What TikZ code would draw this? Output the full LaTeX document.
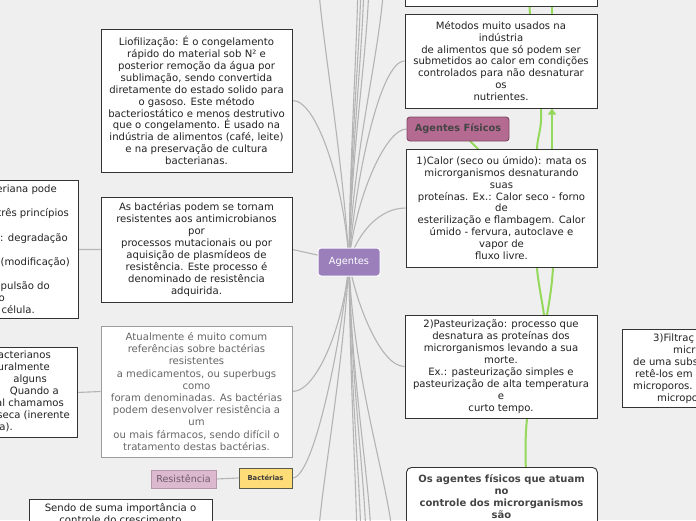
\documentclass[tikz,border=0pt]{standalone}
\usepackage{fontspec}
\setmainfont{DejaVu Sans}
\usetikzlibrary{arrows.meta,calc}
\pgfdeclarelayer{back}
\pgfdeclarelayer{links}
\pgfsetlayers{back,links,main}
\definecolor{bgc}{HTML}{EFEFEF}
\definecolor{boxc}{HTML}{333333}
\definecolor{txtc}{HTML}{222222}
\definecolor{graybox}{HTML}{9C9C9C}
\definecolor{graytxt}{HTML}{666666}
\definecolor{lnkc}{HTML}{B4B4B4}
\definecolor{grnc}{HTML}{94D85C}
\definecolor{agfill}{HTML}{9A7FBB}
\definecolor{fisfill}{HTML}{B56A92}
\definecolor{fisdraw}{HTML}{7E4A66}
\definecolor{fistxt}{HTML}{444444}
\definecolor{resfill}{HTML}{DCB9CF}
\definecolor{resdraw}{HTML}{B497AA}
\definecolor{restxt}{HTML}{6E5B69}
\definecolor{bacfill}{HTML}{FEDC78}
\definecolor{bacdraw}{HTML}{5A5A4A}
\definecolor{bactxt}{HTML}{3C3C3C}
\definecolor{bottxt}{HTML}{444444}
\tikzset{
  bx/.style={draw=boxc, fill=white, line width=0.9pt, align=center, inner sep=2pt,
    text=txtc, font=\fontsize{10.1}{11.9}\selectfont},
  frag/.style={inner sep=0pt, text=txtc, font=\fontsize{10.1}{11.9}\selectfont},
  lnk/.style={draw=lnkc, line width=1.1pt},
  grn/.style={draw=grnc, line width=2pt},
}
\begin{document}
\begin{tikzpicture}[x=1pt,y=-1pt]
\useasboundingbox (0,0) rectangle (696,520);
\begin{pgfonlayer}{back}
\fill[bgc] (0,0) rectangle (696,520);
\end{pgfonlayer}

\begin{scope}
\clip (0,0) rectangle (696,520);
% centre
\node[draw=white, line width=1pt, fill=agfill, rounded corners=3pt, text=white,
  font=\fontsize{9.8}{11}\selectfont, minimum width=62, minimum height=28, inner sep=0pt] (ag) at (349,262) {Agentes};

% left column
\node[bx, minimum width=191, minimum height=143] (lio) at (196.5,100.5)
 {Liofilização: É o congelamento\\rápido do material sob N² e\\posterior remoção da água por\\sublimação, sendo convertida\\diretamente do estado solido para\\o gasoso. Este método\\bacteriostático e menos destrutivo\\que o congelamento. É usado na\\indústria de alimentos (café, leite)\\e na preservação de cultura\\bacterianas.};
\node[bx, minimum width=191, minimum height=105] (acq) at (196.5,249.5)
 {As bactérias podem se tornam\\resistentes aos antimicrobianos\\por\\processos mutacionais ou por\\aquisição de plasmídeos de\\resistência. Este processo é\\denominado de resistência\\adquirida.};
\node[bx, draw=graybox, text=graytxt, font=\fontsize{10.1}{12.2}\selectfont, minimum width=191, minimum height=131] (atu) at (196.5,391.5)
 {Atualmente é muito comum\\referências sobre bactérias\\resistentes\\a medicamentos, ou superbugs\\como\\foram denominadas. As bactérias\\podem desenvolver resistência a\\um\\ou mais fármacos, sendo difícil o\\tratamento destas bactérias.};

% far-left boxes (cut by the edge)
\node[bx, minimum width=200, minimum height=138, anchor=north east] (lb1) at (79,180) {};
\node[frag, anchor=base east] (lb1a) at (57,192.6) {eriana pode};
\node[frag, anchor=base east] (lb1b) at (69,216.6) {três princípios};
\node[frag, anchor=base east] (lb1c) at (68,241.6) {): degradação};
\node[frag, anchor=base east] (lb1d) at (70,265.6) {(modificação)};
\node[frag, anchor=base east] (lb1e) at (50,289.6) {pulsão do};
\node[frag, anchor=base east] (lb1f) at (5,301.6) {o};
\node[frag, anchor=base east] (lb1g) at (35,313.6) {célula.};

\node[bx, minimum width=200, minimum height=90, anchor=north east] (lb2) at (78,347) {};
\node[frag, anchor=base east] (lb2a) at (51,358.6) {acterianos};
\node[frag, anchor=base east] (lb2b) at (50,370.6) {uralmente};
\node[frag, anchor=base east] (lb2c) at (47,382.6) {alguns};
\node[frag, anchor=base east] (lb2d) at (59,394.6) {Quando a};
\node[frag, anchor=base east] (lb2e) at (64,406.6) {al chamamos};
\node[frag, anchor=base east] (lb2f) at (70,418.6) {seca (inerente};
\node[frag, anchor=base east] (lb2g) at (13,430.6) {a).};

% bottom-left
\node[draw=resdraw, line width=0.8pt, fill=resfill, text=restxt, font=\fontsize{9.6}{11}\selectfont,
  minimum width=65, minimum height=18, inner sep=0pt] (res) at (183.5,479) {Resistência};
\node[draw=bacdraw, line width=0.9pt, fill=bacfill, text=bactxt, font=\fontsize{6.8}{8}\bfseries\selectfont,
  minimum width=53, minimum height=20, inner sep=0pt] (bac) at (265.5,478) {Bactérias};
\node[bx, minimum width=183, minimum height=60, anchor=north west] (sendo) at (29,499) {};
\node[frag, align=center, anchor=north] (sendot) at (120.5,503.2) {Sendo de suma importância o\\controle do crescimento};

% right column
\node[bx, minimum width=192, minimum height=40, anchor=south west] (topb) at (405,7) {};
\node[bx, minimum width=192, minimum height=94] (met) at (501,61)
 {Métodos muito usados na\\indústria\\de alimentos que só podem ser\\submetidos ao calor em condições\\controlados para não desnaturar\\os\\nutrientes.};
\node[draw=fisdraw, line width=0.9pt, fill=fisfill, rounded corners=3pt, text=fistxt,
  font=\fontsize{9.8}{11}\bfseries\selectfont, minimum width=102, minimum height=24, inner sep=0pt] (fis) at (458,129) {Agentes Físicos};
\node[bx, minimum width=191, minimum height=118] (calor) at (501.5,208)
 {1)Calor (seco ou úmido): mata os\\microrganismos desnaturando\\suas\\proteínas. Ex.: Calor seco - forno\\de\\esterilização e flambagem. Calor\\úmido - fervura, autoclave e\\vapor de\\fluxo livre.};
\node[bx, minimum width=192, minimum height=103] (past) at (501,366.5)
 {2)Pasteurização: processo que\\desnatura as proteínas dos\\microrganismos levando a sua\\morte.\\Ex.: pasteurização simples e\\pasteurização de alta temperatura\\e\\curto tempo.};
\node[bx, minimum width=160, minimum height=78, anchor=north west] (fil) at (622,329) {};
\node[frag, anchor=base west] (fila) at (653,341.6) {3)Filtraç};
\node[frag, anchor=base west] (filb) at (673,353.6) {micr};
\node[frag, anchor=base west] (filc) at (633,365.6) {de uma subs};
\node[frag, anchor=base west] (fild) at (635,377.6) {retê-los em};
\node[frag, anchor=base west] (file) at (633,389.6) {microporos.};
\node[frag, anchor=base west] (filf) at (657,401.6) {micropo};
\node[bx, rounded corners=5pt, minimum width=191, minimum height=80, anchor=north west] (bot) at (406,467) {};
\node[inner sep=0pt, align=center, text=bottxt, font=\fontsize{10}{12}\bfseries\selectfont, anchor=north] (bott) at (501.5,474.4)
 {Os agentes físicos que atuam\\no\\controle dos microrganismos\\são};
\end{scope}

\begin{pgfonlayer}{links}
\clip (0,0) rectangle (696,520);
% off-canvas ends
\coordinate (t1) at (318,-20);
\coordinate (t2) at (358,-20);
\coordinate (t3) at (361,-20);
\coordinate (t4) at (364,-20);
\coordinate (t5) at (369,-20);
\coordinate (t6) at (384,-20);
\coordinate (b1) at (318,540);
\coordinate (b2) at (357,540);
\coordinate (b3) at (361,540);
\coordinate (b4) at (366,540);
\coordinate (b5) at (371,540);
\coordinate (b6) at (393,540);
\draw[lnk] (ag.center) .. controls (342,150) and (322,40) .. (t1);
\draw[lnk] (ag.center) .. controls (350,150) and (357,50) .. (t2);
\draw[lnk] (ag.center) .. controls (350,150) and (360,50) .. (t3);
\draw[lnk] (ag.center) .. controls (351,150) and (363,50) .. (t4);
\draw[lnk] (ag.center) .. controls (351,150) and (368,50) .. (t5);
\draw[lnk] (ag.center) .. controls (353,150) and (381,50) .. (t6);
\draw[lnk] (ag.center) .. controls (342,380) and (322,480) .. (b1);
\draw[lnk] (ag.center) .. controls (350,380) and (356,480) .. (b2);
\draw[lnk] (ag.center) .. controls (350,380) and (360,480) .. (b3);
\draw[lnk] (ag.center) .. controls (351,380) and (365,480) .. (b4);
\draw[lnk] (ag.center) .. controls (351,380) and (370,480) .. (b5);
\draw[lnk] (ag.center) .. controls (353,380) and (388,480) .. (b6);
% boxes
\draw[lnk] (lio.east) .. controls (318,100) and (345,190) .. (ag.center);
\draw[lnk] (acq.east) -- (ag.center);
\draw[lnk] (atu.east) .. controls (318,391.5) and (345,320) .. (ag.center);
\draw[lnk] (bac.east) .. controls (315,478) and (343,330) .. (ag.center);
\draw[lnk] (met.west) .. controls (380,61) and (355,180) .. (ag.center);
\draw[lnk] (fis.west) .. controls (385,129) and (355,200) .. (ag.center);
\draw[lnk] (calor.west) .. controls (380,208) and (358,232) .. (ag.center);
\draw[lnk] (past.west) .. controls (380,366.5) and (355,300) .. (ag.center);
\draw[lnk] (lb1.east) -- (acq.west);
\draw[lnk] (lb2.east) -- (atu.west);
\draw[lnk] (res.east) -- (bac.west);
% green links
\coordinate (g1) at (490,161);
\draw[grn] (fis.center) -- (g1);
\coordinate (ga0) at (538,195);
\coordinate (ga1) at (537,149);
\coordinate (ga2) at (541,108);
\coordinate (ga3) at (530,14);
\coordinate (ga4) at (530,-20);
\draw[grn] plot[smooth, tension=0.6] coordinates {(ga0) (ga1) (ga2) (ga3) (ga4)};
\coordinate (gb0) at (552,195);
\coordinate (gb1) at (552,108.5);
\draw[grn, -{Triangle[width=8pt,length=6pt]}] (gb0) -- (gb1);
\coordinate (gc0) at (552,30);
\coordinate (gc1) at (552,-20);
\draw[grn] (gc0) -- (gc1);
\coordinate (gd0) at (538,230);
\coordinate (gd1) at (537,268);
\coordinate (gd2) at (544,315);
\coordinate (gd3) at (546,340);
\draw[grn] plot[smooth, tension=0.6] coordinates {(gd0) (gd1) (gd2) (gd3)};
\coordinate (ge0) at (553,230);
\coordinate (ge1) at (553,268);
\coordinate (ge2) at (547,315);
\coordinate (ge3) at (527,419);
\coordinate (ge4) at (527,490);
\draw[grn] plot[smooth, tension=0.6] coordinates {(ge0) (ge1) (ge2) (ge3) (ge4)};
\end{pgfonlayer}
\end{tikzpicture}
\end{document}
